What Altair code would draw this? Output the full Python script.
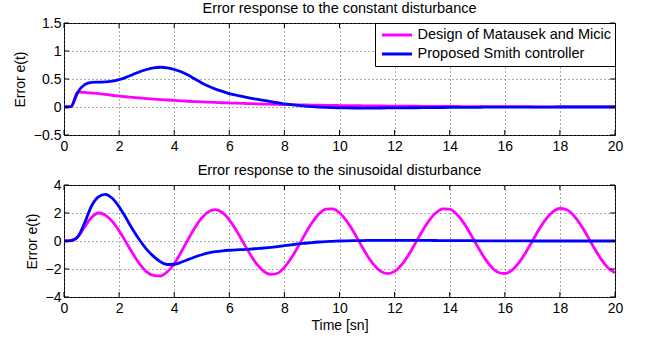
import altair as alt
import pandas as pd

FONT = "Liberation Sans"

# time samples [s]
T = [0, 0.25, 0.5, 0.75, 1, 1.25, 1.5, 1.75, 2, 2.25, 2.5, 2.75, 3, 3.25, 3.5, 3.75,
     4, 4.25, 4.5, 4.75, 5, 5.25, 5.5, 5.75, 6, 6.25, 6.5, 6.75, 7, 7.25, 7.5, 7.75,
     8, 8.25, 8.5, 8.75, 9, 9.25, 9.5, 9.75, 10, 10.25, 10.5, 10.75, 11, 11.25, 11.5, 11.75,
     12, 12.25, 12.5, 12.75, 13, 13.25, 13.5, 13.75, 14, 14.25, 14.5, 14.75, 15, 15.25, 15.5, 15.75,
     16, 16.25, 16.5, 16.75, 17, 17.25, 17.5, 17.75, 18, 18.25, 18.5, 18.75, 19, 19.25, 19.5, 19.75, 20]

# constant disturbance
top_mm = [0, 0.005, 0.265, 0.26, 0.25, 0.24, 0.225, 0.21, 0.195, 0.183, 0.172, 0.161, 0.151, 0.142,
          0.133, 0.125, 0.117, 0.11, 0.103, 0.097, 0.091, 0.086, 0.081, 0.076, 0.072, 0.068, 0.064,
          0.06, 0.056, 0.053, 0.05, 0.047, 0.044, 0.041, 0.039, 0.036, 0.034, 0.032, 0.03, 0.028, 0.026,
          0.025, 0.023, 0.022, 0.02, 0.019, 0.018, 0.017, 0.016, 0.015, 0.014, 0.013, 0.012, 0.011,
          0.011, 0.01, 0.009, 0.009, 0.008, 0.008, 0.007, 0.007, 0.006, 0.006, 0.006, 0.005, 0.005,
          0.005, 0.004, 0.004, 0.004, 0.004, 0.003, 0.003, 0.003, 0.003, 0.003, 0.002, 0.002, 0.002, 0.002]
top_ps = [0, 0.005, 0.265, 0.40, 0.44, 0.445, 0.447, 0.46, 0.49, 0.53, 0.58, 0.63, 0.67, 0.70, 0.71,
          0.70, 0.67, 0.63, 0.57, 0.50, 0.43, 0.37, 0.32, 0.28, 0.24, 0.21, 0.185, 0.16, 0.14, 0.12,
          0.097, 0.077, 0.057, 0.042, 0.028, 0.016, 0.006, -0.002, -0.008, -0.012, -0.015, -0.017,
          -0.018, -0.019, -0.019, -0.019, -0.018, -0.017, -0.016, -0.015, -0.014, -0.013, -0.012,
          -0.011, -0.01, -0.009, -0.008, -0.007, -0.006, -0.005, -0.005, -0.004, -0.004, -0.003,
          -0.003, -0.002, -0.002, -0.002, -0.001, -0.001, -0.001, -0.001, 0, 0, 0, 0, 0, 0, 0, 0, 0]

# sinusoidal disturbance
bot_mm = [0, 0.02, 0.3, 1.0, 1.68, 2.0, 1.85, 1.4, 0.73, -0.08, -0.91, -1.65, -2.2, -2.46, -2.5,
          -2.2, -1.62, -0.8, 0.1, 0.95, 1.65, 2.1, 2.24, 2.02, 1.51, 0.77, -0.08, -0.92, -1.66,
          -2.17, -2.39, -2.3, -1.88, -1.22, -0.39, 0.49, 1.3, 1.92, 2.27, 2.3, 2.02, 1.45, 0.69,
          -0.17, -1.01, -1.71, -2.17, -2.33, -2.17, -1.71, -1.01, -0.17, 0.69, 1.45, 2.02, 2.3,
          2.27, 1.92, 1.31, 0.52, -0.35, -1.17, -1.82, -2.23, -2.32, -2.1, -1.58, -0.85, 0.0, 0.85,
          1.58, 2.1, 2.32, 2.23, 1.82, 1.17, 0.35, -0.52, -1.31, -1.92, -2.27]
bot_ps = [0, 0.02, 0.3, 1.3, 2.5, 3.15, 3.33, 3.05, 2.45, 1.65, 0.8, 0.05, -0.6, -1.1, -1.48,
          -1.68, -1.66, -1.52, -1.33, -1.14, -0.98, -0.85, -0.76, -0.7, -0.66, -0.63, -0.61, -0.58,
          -0.54, -0.5, -0.45, -0.4, -0.33, -0.27, -0.21, -0.16, -0.11, -0.07, -0.04, -0.02, 0.0,
          0.01, 0.02, 0.03, 0.04, 0.045, 0.05, 0.05, 0.05, 0.05, 0.05, 0.045, 0.04, 0.04, 0.035,
          0.03, 0.03, 0.025, 0.02, 0.02, 0.015, 0.015, 0.01, 0.01, 0.01, 0.005, 0.005, 0.005,
          0, 0, 0, 0, 0, 0, 0, 0, 0, 0, 0, 0, 0]

SERIES = ["Design of Matausek and Micic", "Proposed Smith controller"]
COLORS = ["#ff00ff", "#0000ff"]

X_TICKS = [0, 2, 4, 6, 8, 10, 12, 14, 16, 18, 20]
TOP_Y_TICKS = [-0.5, 0, 0.5, 1, 1.5]
BOT_Y_TICKS = [-4, -2, 0, 2, 4]

TITLES = ["Error response to the constant disturbance",
          "Error response to the sinusoidal disturbance"]

W, H = 551, 112
TICK_LEN = 5


def make_df(a, b):
    return pd.concat([
        pd.DataFrame({"t": T, "e": a, "series": SERIES[0], "k": 0}),
        pd.DataFrame({"t": T, "e": b, "series": SERIES[1], "k": 1}),
    ], ignore_index=True)


def panel(df, title, ydom, yticks, legend, xtitle):
    x_axis_kwargs = dict(values=X_TICKS, format="~g", labelFlush=False, labelPadding=4,
                         titlePadding=3)
    x_axis_kwargs["title"] = xtitle if xtitle else None
    xenc = alt.X("t:Q", scale=alt.Scale(domain=[0, 20], nice=False),
                 axis=alt.Axis(**x_axis_kwargs))
    yenc = alt.Y("e:Q", scale=alt.Scale(domain=ydom, nice=False),
                 axis=alt.Axis(values=yticks, format="~g", title="Error e(t)",
                               labelPadding=3, titlePadding=6))
    if legend:
        color = alt.Color("series:N",
                          scale=alt.Scale(domain=SERIES, range=COLORS),
                          legend=alt.Legend(title=None, orient="top-right", offset=0,
                                            strokeColor="black", fillColor="white",
                                            padding=4, labelFontSize=14.5, labelFont=FONT,
                                            labelColor="black", labelLimit=400,
                                            symbolType="stroke", symbolSize=900,
                                            symbolStrokeWidth=3, symbolOffset=1.5,
                                            clipHeight=16, labelOffset=4, rowPadding=3))
    else:
        color = alt.Color("series:N", scale=alt.Scale(domain=SERIES, range=COLORS),
                          legend=None)

    lines = alt.Chart(df).mark_line(strokeWidth=2.8, interpolate="monotone").encode(
        x=xenc, y=yenc, color=color, order=alt.Order("k:Q"))

    xt = pd.DataFrame({"t": X_TICKS})
    yt = pd.DataFrame({"e": yticks})
    tick_style = dict(color="black", strokeWidth=1)
    tb = alt.Chart(xt).mark_rule(**tick_style).encode(
        x=xenc, y=alt.value(H), y2=alt.value(H - TICK_LEN))
    tt = alt.Chart(xt).mark_rule(**tick_style).encode(
        x=xenc, y=alt.value(0), y2=alt.value(TICK_LEN))
    tl = alt.Chart(yt).mark_rule(**tick_style).encode(
        y=yenc, x=alt.value(0), x2=alt.value(TICK_LEN))
    tr = alt.Chart(yt).mark_rule(**tick_style).encode(
        y=yenc, x=alt.value(W), x2=alt.value(W - TICK_LEN))

    return alt.layer(lines, tb, tt, tl, tr, title=alt.TitleParams(
        text=title, fontSize=14.5, font=FONT, fontWeight="normal", color="black",
        anchor="middle", frame="group", offset=-14, baseline="bottom")
    ).properties(width=W, height=H)


top = panel(make_df(top_mm, top_ps), TITLES[0], [-0.5, 1.5], TOP_Y_TICKS, True, None)
bot = panel(make_df(bot_mm, bot_ps), TITLES[1], [-4, 4], BOT_Y_TICKS, False, "Time [sn]")

chart = alt.vconcat(top, bot, spacing=8).resolve_scale(color="independent").properties(
    padding={"left": 12, "top": 0, "right": 20, "bottom": 0},
    background="white",
).configure_view(stroke="black", strokeWidth=1).configure_axis(
    labelFont=FONT, labelFontSize=14, labelColor="black",
    titleFont=FONT, titleFontSize=14, titleFontWeight="normal", titleColor="black",
    grid=True, gridColor="#555555", gridDash=[1, 3], gridWidth=1,
    domain=False, ticks=False, tickSize=0,
)

chart.save("out.html", embed_options={"renderer": "svg", "actions": False})
